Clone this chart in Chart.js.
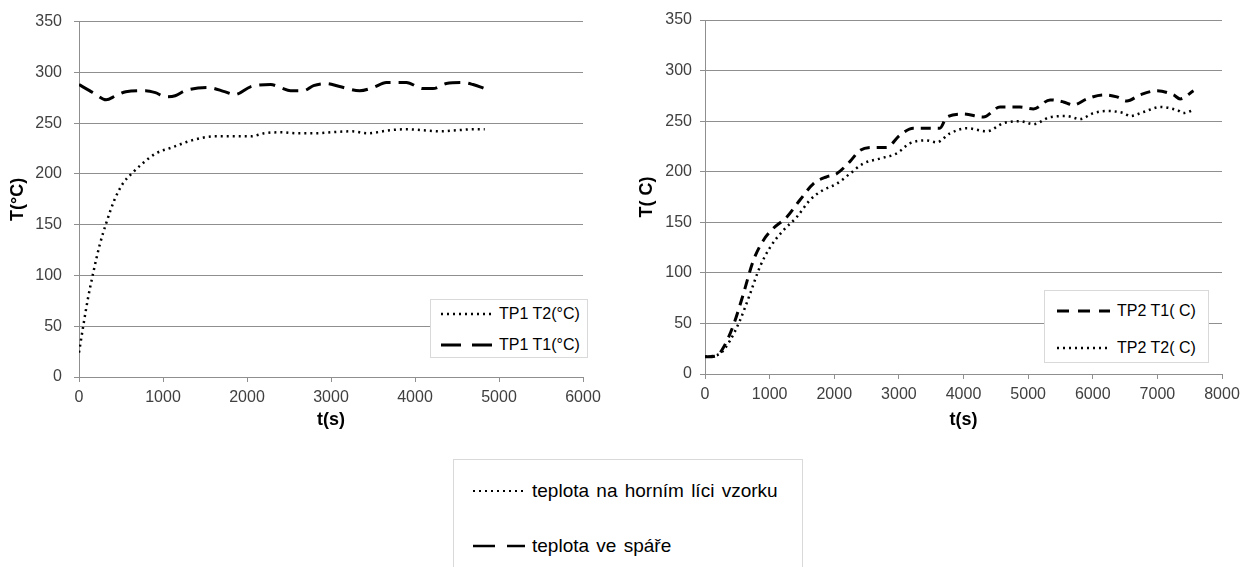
<!DOCTYPE html>
<html lang="cs">

<head>
  <title>Teplota TP1 / TP2</title>
  <meta charset="UTF-8">
  <script src="https://cdn.jsdelivr.net/npm/chart.js"></script>
  <style>
    body { margin: 0; background: #fff; font-family: "Liberation Sans", Arial, sans-serif; }
    .page { position: relative; width: 1250px; height: 567px; overflow: hidden; }
    canvas { position: absolute; top: 0; }
    .legenda { position: absolute; box-sizing: border-box; background: #fff; border: 1px solid #d9d9d9; color: #000; }
    .item { position: absolute; left: 0; height: 22px; white-space: nowrap; }
    .item svg { position: absolute; top: 0; }
    .item span { position: absolute; top: 0; line-height: 22px; }
  </style>
</head>

<body>
  <div class="page">
    <canvas id="grafTP1" width="620" height="440" style="left:0px"></canvas>
    <canvas id="grafTP2" width="624" height="440" style="left:626px"></canvas>

    <!-- legenda TP1 -->
    <div class="legenda" style="left:430px; top:299px; width:158px; height:59px; font-size:16px;">
      <div class="item" style="top:3px">
        <svg width="60" height="22" style="left:10px"><line x1="0" y1="11" x2="53" y2="11" stroke="#000" stroke-width="2.5" stroke-dasharray="2 4" /></svg>
        <span style="left:68px">TP1 T2(°C)</span>
      </div>
      <div class="item" style="top:34px">
        <svg width="60" height="22" style="left:10px"><line x1="0" y1="11" x2="53" y2="11" stroke="#000" stroke-width="3" stroke-dasharray="20 11" /></svg>
        <span style="left:68px">TP1 T1(°C)</span>
      </div>
    </div>

    <!-- legenda TP2 -->
    <div class="legenda" style="left:1044px; top:290px; width:165px; height:73px; font-size:16px;">
      <div class="item" style="top:9px">
        <svg width="60" height="22" style="left:12px"><line x1="0" y1="11" x2="53" y2="11" stroke="#000" stroke-width="3" stroke-dasharray="12 9" /></svg>
        <span style="left:72px">TP2 T1( C)</span>
      </div>
      <div class="item" style="top:46px">
        <svg width="60" height="22" style="left:12px"><line x1="0" y1="11" x2="53" y2="11" stroke="#000" stroke-width="2.5" stroke-dasharray="2 4" /></svg>
        <span style="left:72px">TP2 T2( C)</span>
      </div>
    </div>

    <!-- spolecna legenda -->
    <div class="legenda" style="left:453px; top:459px; width:350px; height:130px; font-size:19px; word-spacing:2px;">
      <div class="item" style="top:20px">
        <svg width="60" height="22" style="left:19px"><line x1="0" y1="11" x2="54" y2="11" stroke="#000" stroke-width="2" stroke-dasharray="2 4" /></svg>
        <span style="left:78px">teplota na horním líci vzorku</span>
      </div>
      <div class="item" style="top:75px">
        <svg width="60" height="22" style="left:19px"><line x1="0" y1="11" x2="52" y2="11" stroke="#000" stroke-width="2.7" stroke-dasharray="22 12" /></svg>
        <span style="left:78px">teplota ve spáře</span>
      </div>
    </div>
  </div>
</body>

<script>
  // TP1 - teplota na hornim lici (T2) a ve spare (T1)
  const tp1T2Cas = [0, 50, 106, 165, 243, 322, 420, 518, 635, 753, 910, 1106, 1341, 1616, 1850, 2047, 2204, 2400, 2596, 2831, 3000, 3250, 3430, 3700, 3900, 4100, 4300, 4500, 4700, 4830];
  const tp1T2 = [24, 50, 77, 101, 129, 151, 174, 190, 201, 210, 220, 226, 233, 237, 237, 237, 240, 241, 240, 240, 241, 242, 240, 243, 244, 243, 242, 243, 244, 244];

  const tp1T1Cas = [0, 125, 204, 322, 439, 557, 792, 910, 1027, 1145, 1263, 1537, 1733, 1851, 2047, 2282, 2400, 2518, 2675, 2792, 2945, 3103, 3341, 3500, 3659, 3897, 4095, 4214, 4373, 4571, 4690, 4830];
  const tp1T1 = [288, 282, 278, 273, 277, 281, 282, 280, 276, 277, 282, 285, 281, 278, 286, 288, 285, 282, 282, 287, 289, 286, 282, 285, 290, 290, 284, 284, 289, 290, 288, 284];

  // TP2
  const tp2T1Cas = [0, 180, 283, 438, 593, 747, 902, 1057, 1263, 1469, 1675, 1881, 2036, 2242, 2397, 2603, 2809, 3015, 3222, 3479, 3634, 3741, 3999, 4308, 4566, 4876, 5082, 5340, 5546, 5701, 5908, 6166, 6373, 6527, 6733, 6991, 7249, 7352, 7559];
  const tp2T1 = [17, 18, 26, 48, 79, 112, 132, 144, 155, 172, 188, 195, 198, 210, 221, 224, 224, 236, 243, 243, 243, 254, 257, 254, 264, 264, 262, 271, 269, 266, 272, 276, 274, 270, 276, 280, 276, 272, 280];

  const tp2T2Cas = [0, 232, 387, 541, 696, 850, 1005, 1211, 1418, 1624, 1830, 2036, 2242, 2448, 2706, 2964, 3170, 3428, 3582, 3792, 4050, 4360, 4618, 4876, 5082, 5340, 5598, 5804, 6011, 6217, 6476, 6579, 6785, 7043, 7301, 7404, 7559];
  const tp2T2 = [17, 20, 33, 53, 79, 106, 125, 142, 155, 172, 182, 188, 198, 208, 213, 218, 228, 231, 229, 238, 243, 240, 248, 250, 247, 254, 255, 252, 258, 260, 258, 255, 259, 264, 261, 258, 261];

  const teplotyTicks = [0, 50, 100, 150, 200, 250, 300, 350];

  const pismo = '"Liberation Sans", Arial, sans-serif';
  const mrizka = '#8f8f8f';

  function body(casy, hodnoty) {
    let pole = [];
    for (let i = 0; i < casy.length; i++) {
      pole.push({ x: casy[i], y: hodnoty[i] });
    }
    return pole;
  }

  function serie(nazev, casy, hodnoty, dash, sirka) {
    return {
      label: nazev,
      data: body(casy, hodnoty),
      borderColor: '#000',
      borderWidth: sirka,
      borderDash: dash,
      pointRadius: 0,
      fill: false,
      tension: 0.4,
      cubicInterpolationMode: 'monotone'
    };
  }

  function vytvorGraf(id, datasets, xMax, yTitulek, nastaveni) {
    new Chart(document.getElementById(id), {
      type: 'line',
      data: { datasets: datasets },
      options: {
        responsive: false,
        animation: false,
        events: [],
        layout: { padding: { top: 20, right: nastaveni.pravy, left: 0, bottom: 0 } },
        plugins: { legend: { display: false }, tooltip: { enabled: false } },
        scales: {
          x: {
            type: 'linear',
            min: 0,
            max: xMax,
            afterFit: s => { s.height = nastaveni.xVyska; },
            ticks: {
              stepSize: 1000, color: '#404040', padding: 6, maxRotation: 0,
              font: { family: pismo, size: 16 },
              callback: v => String(v)
            },
            grid: { drawOnChartArea: false, drawTicks: true, tickLength: 5, color: mrizka },
            border: { color: mrizka, width: 1 },
            title: { display: true, text: 't(s)', color: '#000', padding: { top: 0, bottom: 9 }, font: { family: pismo, size: 18, weight: 'bold' } }
          },
          y: {
            min: 0,
            max: 350,
            afterFit: s => { s.width = 79; },
            afterBuildTicks: s => { s.ticks = teplotyTicks.map(v => ({ value: v })); },
            ticks: { color: '#404040', padding: nastaveni.yPad, font: { family: pismo, size: 16 }, callback: v => String(v) },
            grid: { color: mrizka, tickLength: 5 },
            border: { color: mrizka, width: 1 },
            title: { display: true, text: yTitulek, color: '#000', padding: { top: nastaveni.titulekY, bottom: 0 }, font: { family: pismo, size: 18, weight: 'bold' } }
          }
        }
      }
    });
  }

  vytvorGraf('grafTP1', [
    serie('TP1 T2(°C)', tp1T2Cas, tp1T2, [2, 4], 2.5),
    serie('TP1 T1(°C)', tp1T1Cas, tp1T1, [16, 8], 3)
  ], 6000, 'T(°C)', { pravy: 37, xVyska: 63, yPad: 12, titulekY: 7 });

  vytvorGraf('grafTP2', [
    serie('TP2 T1( C)', tp2T1Cas, tp2T1, [10, 7], 3),
    serie('TP2 T2( C)', tp2T2Cas, tp2T2, [2, 4], 2.5)
  ], 8000, 'T( C)', { pravy: 28, xVyska: 66, yPad: 8, titulekY: 10 });
</script>

</html>
